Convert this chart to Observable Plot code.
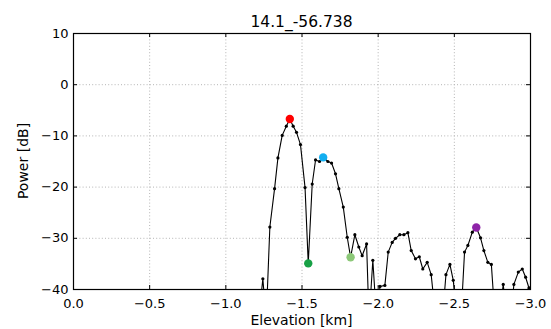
<!DOCTYPE html>
<html>
<head>
<meta charset="utf-8">
<script src="https://cdn.jsdelivr.net/npm/d3@7"></script>
<script src="https://cdn.jsdelivr.net/npm/@observablehq/plot@0.6"></script>
<style>
  html, body { margin: 0; padding: 0; background: #fff; }
  #chart svg { display: block; }
</style>
</head>
<body>
<div id="chart"></div>
<script>
const titleText = "14.1_-56.738";
const xLabel = "Elevation [km]";
const yLabel = "Power [dB]";

const xTicks = [0, -0.5, -1.0, -1.5, -2.0, -2.5, -3.0];
const yTicks = [10, 0, -10, -20, -30, -40];

// profile samples (values below -40 dB fall off the bottom of the axes)
const elevation = [
  -1.215, -1.243, -1.265, -1.289, -1.320, -1.342, -1.370, -1.397, -1.420, -1.442,
  -1.464, -1.490, -1.520, -1.541, -1.567, -1.589, -1.615, -1.639, -1.670, -1.694,
  -1.720, -1.742, -1.771, -1.797, -1.819, -1.847, -1.873, -1.895, -1.924, -1.940,
  -1.965, -1.990, -2.012, -2.044, -2.066, -2.092, -2.114, -2.142, -2.169, -2.195,
  -2.217, -2.245, -2.270, -2.293, -2.322, -2.348, -2.372, -2.397, -2.421, -2.445,
  -2.471, -2.493, -2.518, -2.543, -2.567, -2.589, -2.618, -2.644, -2.672, -2.694,
  -2.720, -2.743, -2.768, -2.793, -2.821, -2.845, -2.868, -2.891, -2.920, -2.946,
  -2.968, -2.990
];
const power = [
  -46, -37.9, -46, -27.8, -20.3, -14.3, -9.9, -8.1, -6.7, -8.1,
  -9.3, -11.7, -20.1, -34.9, -19.4, -14.7, -15.0, -14.2, -15.0, -15.3,
  -17.4, -20.3, -23.9, -29.8, -33.7, -29.3, -31.7, -33.4, -31.1, -46,
  -34.3, -46, -39.4, -39.2, -32.7, -30.8, -30.0, -29.3, -29.3, -28.9,
  -32.4, -34.0, -33.6, -36.0, -34.7, -37.1, -44, -46, -46, -37.1,
  -35.1, -38.2, -46, -46, -32.7, -31.4, -28.8, -27.9, -29.9, -32.4,
  -34.7, -35.1, -46, -46, -39.0, -46, -46, -39.0, -36.6, -36.0,
  -37.6, -39.7
];

// highlighted points
const markX = [-1.420, -1.639, -1.541, -1.819, -2.644];
const markY = [-6.7, -14.2, -34.9, -33.7, -27.9];
const markColor = ["#ff0000", "#12aef0", "#17a045", "#8cc878", "#8e24a8"];

const data = elevation.map((e, i) => ({e, p: power[i]}));
const marks = markX.map((x, i) => ({x, y: markY[i], c: markColor[i]}));

const W = 551, H = 329;
const mL = 73, mR = 21, mT = 33, mB = 40;
const pw = W - mL - mR, ph = H - mT - mB;
const minus = s => String(s).replace("-", "\u2212");

const plot = Plot.plot({
  width: W,
  height: H,
  marginLeft: mL,
  marginRight: mR,
  marginTop: mT,
  marginBottom: mB,
  style: {fontFamily: "DejaVu Sans, sans-serif", fontSize: "13px", color: "#000", background: "#fff"},
  x: {domain: [0, -3]},
  y: {domain: [-40, 10]},
  marks: [
    Plot.gridX(xTicks, {stroke: "#b4b4b4", strokeOpacity: 1, strokeWidth: 1, strokeDasharray: "1,2.2"}),
    Plot.gridY(yTicks, {stroke: "#b4b4b4", strokeOpacity: 1, strokeWidth: 1, strokeDasharray: "1,2.2"}),
    Plot.axisX(xTicks, {tickSize: 0, tickPadding: 9, tickFormat: d => minus(d.toFixed(1)), label: null, fontSize: 13}),
    Plot.axisY(yTicks, {tickSize: 0, tickPadding: 5, tickFormat: d => minus(d), label: null, fontSize: 13}),
    Plot.tickX(xTicks, {x: d => d, insetTop: ph - 4, stroke: "#000"}),
    Plot.tickX(xTicks, {x: d => d, insetBottom: ph - 4, stroke: "#000"}),
    Plot.tickY(yTicks, {y: d => d, insetRight: pw - 4, stroke: "#000"}),
    Plot.tickY(yTicks, {y: d => d, insetLeft: pw - 4, stroke: "#000"}),
    Plot.line(data, {x: "e", y: "p", stroke: "#000", strokeWidth: 1.1, clip: true}),
    Plot.dot(data, {x: "e", y: "p", r: 1.6, fill: "#000", stroke: null, clip: true}),
    Plot.dot(marks, {x: "x", y: "y", r: 4.2, fill: "c", stroke: null}),
    Plot.frame({stroke: "#000", strokeWidth: 1.2})
  ]
});

const svg = d3.select(plot);
svg.append("text")
  .attr("x", mL + pw / 2).attr("y", 27)
  .attr("text-anchor", "middle")
  .attr("font-size", 15.5).attr("fill", "#000")
  .text(titleText);
svg.append("text")
  .attr("x", mL + pw / 2).attr("y", 325)
  .attr("text-anchor", "middle")
  .attr("font-size", 14).attr("fill", "#000")
  .text(xLabel);
svg.append("text")
  .attr("transform", `translate(28,${mT + ph / 2}) rotate(-90)`)
  .attr("text-anchor", "middle")
  .attr("font-size", 14).attr("fill", "#000")
  .text(yLabel);

document.getElementById("chart").appendChild(plot);
</script>
</body>
</html>
